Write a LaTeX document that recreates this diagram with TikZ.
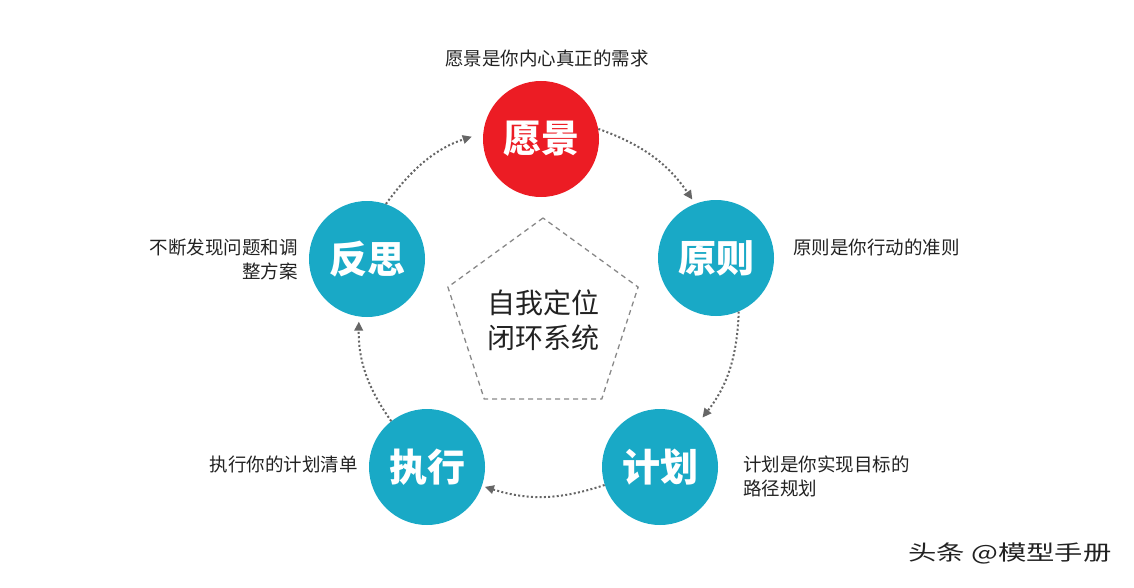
\documentclass[tikz,border=0pt]{standalone}
\usepackage{fontspec}
\setmainfont{Noto Sans CJK SC}
\usetikzlibrary{arrows.meta,shapes.geometric}
\definecolor{teal1}{HTML}{19A9C6}
\definecolor{red1}{HTML}{EC1C24}
\definecolor{txt}{HTML}{222222}
\definecolor{arrowgray}{HTML}{666666}
\definecolor{pentgray}{HTML}{888888}
\begin{document}
\begin{tikzpicture}[x=1pt,y=1pt,
 bubble/.style={circle, minimum size=116pt, inner sep=0pt, fill=teal1, text=white, font=\fontsize{38}{40}\selectfont\bfseries},
 lbl/.style={text=txt, font=\fontsize{18.5}{24}\selectfont, inner sep=0pt},
 flow/.style={arrowgray, line width=2pt, dash pattern=on 2pt off 2.3pt, -{Triangle[length=9pt,width=8.5pt]}, bend left=18},
]
\useasboundingbox (0,0) rectangle (1134,-588);
\node[bubble, fill=red1] (yj) at (541,-139) {愿景};
\node[bubble] (yz) at (716,-258) {原则};
\node[bubble] (jh) at (660,-467) {计划};
\node[bubble] (zx) at (427,-467) {执行};
\node[bubble] (fs) at (367,-259) {反思};

\node[regular polygon, regular polygon sides=5, minimum size=200pt, inner sep=0pt, outer sep=0pt, draw=pentgray, line width=1.3pt, dash pattern=on 5pt off 4pt] (pent) at (543,-318) {};
\node[text=txt, font=\fontsize{28}{35}\selectfont, align=center, inner sep=0pt] (core) at (543,-320) {自我定位\\闭环系统};

\draw[flow, shorten >=5pt] (yj.10) to (yz.111);
\draw[flow, shorten >=7pt] (yz.293) to (jh.49);
\draw[flow, shorten >=3pt] (jh.198) to (zx.341);
\draw[flow, shorten >=5pt] (zx.128) to (fs.262);
\draw[flow, shorten >=12pt] (fs.71) to (yj.174);

\node[lbl] (t1) at (547,-58) {愿景是你内心真正的需求};
\node[lbl, anchor=west] (t2) at (793,-247) {原则是你行动的准则};
\node[lbl, anchor=west, align=left] (t3) at (743,-476) {计划是你实现目标的\\路径规划};
\node[lbl, anchor=east] (t4) at (358,-464) {执行你的计划清单};
\node[lbl, anchor=east, align=right] (t5) at (298,-259) {不断发现问题和调\\整方案};

\node[text=txt, font=\fontsize{21}{24}\selectfont, inner sep=0pt] (wm) at (1010,-553) {\scalebox{1.35}[1]{头条 @模型手册}};
\end{tikzpicture}
\end{document}
